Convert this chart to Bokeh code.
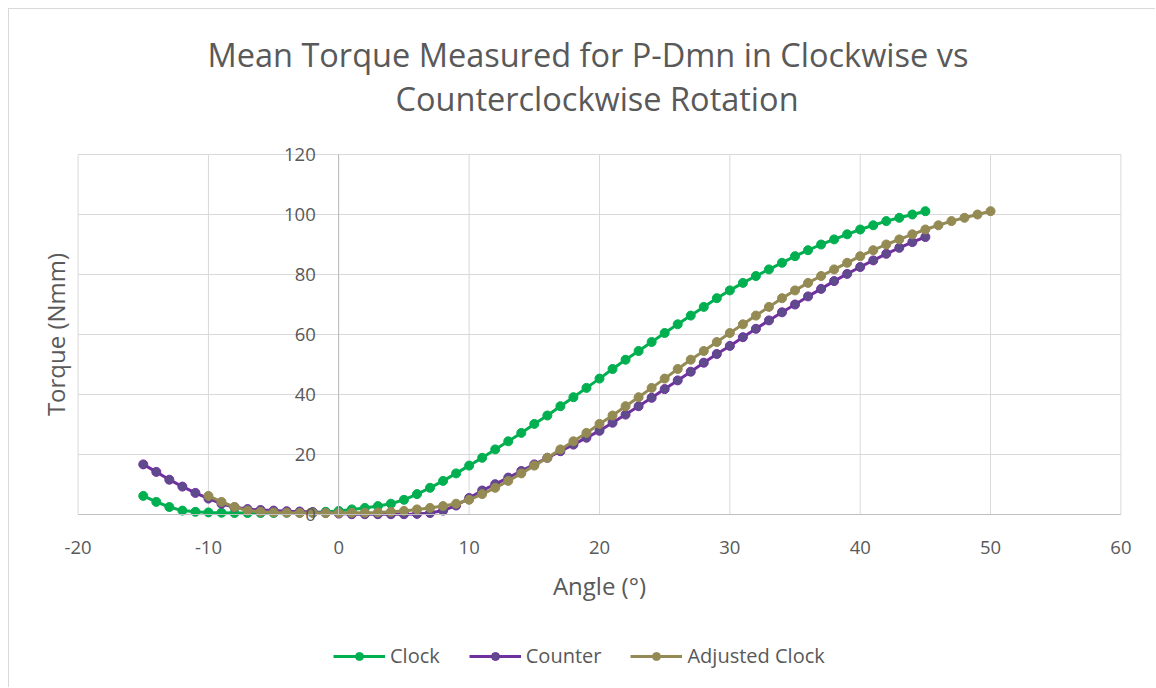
import math
from bokeh.plotting import figure
from bokeh.models import Range1d, FixedTicker, Title, Legend, LegendItem, Label
from bokeh.embed import file_html
from bokeh.resources import INLINE

# ---------------- data ----------------
angle = [-15, -14, -13, -12, -11, -10, -9, -8, -7, -6, -5, -4, -3, -2, -1,
         0, 1, 2, 3, 4, 5, 6, 7, 8, 9, 10, 11, 12, 13, 14, 15, 16, 17, 18, 19,
         20, 21, 22, 23, 24, 25, 26, 27, 28, 29, 30, 31, 32, 33, 34, 35, 36,
         37, 38, 39, 40, 41, 42, 43, 44, 45]

clock_torque = [6.2, 4.2, 2.5, 1.3, 0.9, 0.7, 0.6, 0.5, 0.5, 0.5, 0.5, 0.6, 0.6, 0.7, 0.9,
                1.2, 1.7, 2.2, 2.8, 3.6, 4.9, 6.8, 8.9, 11.2, 13.7, 16.3, 18.9, 21.7, 24.4,
                27.2, 30.2, 33.0, 36.1, 39.1, 42.2, 45.3, 48.5, 51.6, 54.5, 57.5, 60.5,
                63.4, 66.3, 69.2, 72.1, 74.7, 77.2, 79.5, 81.7, 83.9, 86.1, 88.1, 90.0,
                91.7, 93.4, 95.0, 96.4, 97.8, 98.9, 100.0, 101.1]

counter_torque = [16.7, 14.2, 11.6, 9.3, 7.2, 5.3, 3.6, 2.4, 1.8, 1.5, 1.3, 1.1, 1.0, 0.8, 0.5,
                  0.3, 0.1, 0.1, 0.1, 0.1, 0.1, 0.2, 0.5, 1.3, 3.0, 5.5, 8.0, 10.1, 12.3,
                  14.5, 16.7, 18.9, 21.1, 23.3, 25.6, 27.9, 30.6, 33.3, 36.1, 38.9, 41.8,
                  44.7, 47.6, 50.6, 53.5, 56.2, 59.1, 61.9, 64.7, 67.4, 70.0, 72.7, 75.2,
                  77.8, 80.2, 82.5, 84.7, 86.9, 88.9, 90.8, 92.5]

adjusted_angle = [-10, -9, -8, -7, -6, -5, -4, -3, -2, -1, 0, 1, 2, 3, 4,
                  5, 6, 7, 8, 9, 10, 11, 12, 13, 14, 15, 16, 17, 18, 19, 20, 21, 22, 23, 24,
                  25, 26, 27, 28, 29, 30, 31, 32, 33, 34, 35, 36, 37, 38, 39, 40, 41,
                  42, 43, 44, 45, 46, 47, 48, 49, 50]
adjusted_torque = clock_torque

x_ticks = [-20, -10, 0, 10, 20, 30, 40, 50, 60]
x_tick_labels = {-20: "-20", -10: "-10"}
y_ticks = [0, 20, 40, 60, 80, 100, 120]

series_names = ["Clock", "Counter", "Adjusted Clock"]
line_colors = ["#00B050", "#7030A0", "#948A54"]
marker_fills = ["#00B050", "#5E4B8B", "#948A54"]

FONT = "Open Sans"
TXT = "#595959"
GRID = "#D9D9D9"
AXIS = "#BFBFBF"

x_lo, x_hi = x_ticks[0], x_ticks[-1]
y_lo, y_hi = y_ticks[0], y_ticks[-1]

# The frame is padded beyond the -20..60 / 0..120 data box so that the axes
# (crossing at 0), their labels and the legend are drawn inside it.
p = figure(width=1147, height=679, output_backend="svg", toolbar_location=None,
           x_range=Range1d(-22.5, 62.5), y_range=Range1d(-58, 126), title=None,
           min_border_left=36, min_border_right=3, min_border_top=127,
           min_border_bottom=0)
p.styles = {"margin-left": "8px", "margin-top": "8px",
            "border-left": "1px solid #D9D9D9", "border-top": "1px solid #D9D9D9"}
p.outline_line_color = None
p.background_fill_color = "white"
p.border_fill_color = "white"

# grid lines limited to the data box
p.xgrid.visible = False
p.ygrid.visible = False
p.segment(x0=x_ticks, y0=[y_lo] * len(x_ticks), x1=x_ticks, y1=[y_hi] * len(x_ticks),
          line_color=GRID, line_width=1)
p.segment(x0=[x_lo] * len(y_ticks), y0=y_ticks, x1=[x_hi] * len(y_ticks), y1=y_ticks,
          line_color=GRID, line_width=1)

# x axis crossing at y = 0
xa = p.xaxis[0]
xa.fixed_location = 0
xa.bounds = (x_lo, x_hi)
xa.ticker = FixedTicker(ticks=x_ticks)
xa.major_label_overrides = x_tick_labels
xa.axis_line_color = AXIS
xa.major_tick_line_color = None
xa.minor_tick_line_color = None
xa.major_label_standoff = 20
xa.major_label_text_font = FONT
xa.major_label_text_font_size = "18.5px"
xa.major_label_text_color = TXT
xa.axis_label = "Angle (°)"
xa.axis_label_standoff = 12
xa.axis_label_text_font = FONT
xa.axis_label_text_font_size = "24px"
xa.axis_label_text_font_style = "normal"
xa.axis_label_text_color = TXT

# y axis crossing at x = 0
ya = p.yaxis[0]
ya.fixed_location = 0
ya.bounds = (y_lo, y_hi)
ya.ticker = FixedTicker(ticks=y_ticks)
ya.axis_line_color = AXIS
ya.major_tick_line_color = None
ya.minor_tick_line_color = None
ya.major_label_standoff = 17
ya.major_label_text_font = FONT
ya.major_label_text_font_size = "18.5px"
ya.major_label_text_color = TXT

# y axis title, left of the -20 grid line and centred on 0..120
p.add_layout(Label(x=x_lo, y=(y_lo + y_hi) / 2, text="Torque (Nmm)", angle=math.pi / 2,
                   text_align="center", text_baseline="bottom", x_offset=-6,
                   text_font=FONT, text_font_size="24px", text_color=TXT))

# titles (second line added first so it sits closest to the plot)
p.add_layout(Title(text="Counterclockwise Rotation", align="left", offset=350,
                   text_font=FONT, text_font_size="32.5px", text_font_style="normal",
                   text_color=TXT, standoff=32), "above")
p.add_layout(Title(text="Mean Torque Measured for P-Dmn in Clockwise vs", align="left",
                   offset=162, text_font=FONT, text_font_size="32.5px",
                   text_font_style="normal", text_color=TXT, standoff=-38), "above")

xs = [angle, angle, adjusted_angle]
ys = [clock_torque, counter_torque, adjusted_torque]
items = []
for name, x, y, lc, mf in zip(series_names, xs, ys, line_colors, marker_fills):
    l = p.line(x, y, line_color=lc, line_width=3)
    s = p.scatter(x, y, size=9, fill_color=mf, line_color=lc, line_width=1)
    items.append(LegendItem(label=name, renderers=[l, s]))

legend = Legend(items=items, orientation="horizontal", location=(288, 19),
                glyph_width=52, glyph_height=20, label_standoff=5, spacing=29,
                padding=0, margin=0, border_line_color=None,
                background_fill_alpha=0,
                label_text_font=FONT, label_text_font_size="20px",
                label_text_color=TXT)
p.add_layout(legend, "center")

open("out.html", "w").write(file_html(p, INLINE))
